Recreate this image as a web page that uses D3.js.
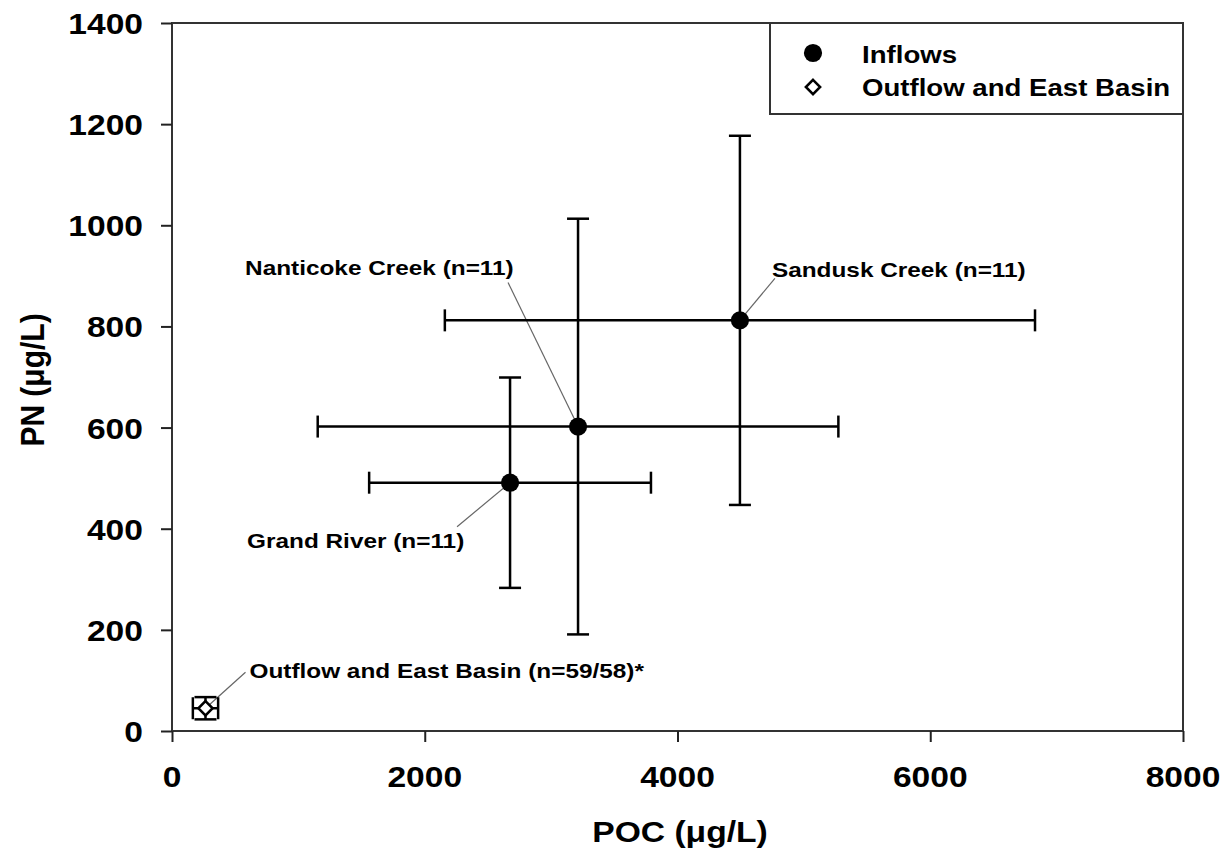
<!DOCTYPE html>
<html><head><meta charset="utf-8">
<script src="https://cdn.jsdelivr.net/npm/d3@7"></script>
<style>
body{margin:0;background:#fff}
text{font-family:"Liberation Sans",Arial,sans-serif;font-weight:bold;fill:#000}
</style>
</head><body>
<svg id="chart" width="1226" height="864"></svg>
<script>
// ---- data ----
const siteLabels = ["Grand River (n=11)", "Nanticoke Creek (n=11)", "Sandusk Creek (n=11)", "Outflow and East Basin (n=59/58)*"];
const siteGroups = ["Inflows", "Inflows", "Inflows", "Outflow and East Basin"];
const pocMean = [2675, 3213, 4494, 265];
const pocSD   = [1115, 2060, 2335, 100];
const pnMean  = [491, 602, 812, 45];
const pnSD    = [208, 411, 365, 22];
const xTickValues = [0, 2000, 4000, 6000, 8000];
const yTickValues = [0, 200, 400, 600, 800, 1000, 1200, 1400];
const legendLabels = ["Inflows", "Outflow and East Basin"];
const xTitle = "POC (\u03bcg/L)";
const yTitle = "PN (\u03bcg/L)";

// label placement relative to point (pixels)
const labelOffsets = [
  {dx: -263, dy: 65, lx1: -53, ly1: 44},
  {dx: -333, dy: -152, lx1: -70, ly1: -144},
  {dx: 32, dy: -43, lx1: 35, ly1: -42},
  {dx: 44, dy: -30, lx1: 40, ly1: -36}
];

const svg = d3.select("#chart");
const L = 172, R = 1183, T = 23, B = 731;
const x = d3.scaleLinear().domain([0, 8000]).range([L, R]);
const y = d3.scaleLinear().domain([0, 1400]).range([B, T]);

function stext(g, str, px, py, size, sx, anchor) {
  return g.append("text")
    .attr("transform", `translate(${px},${py}) scale(${sx},1)`)
    .attr("font-size", size)
    .attr("text-anchor", anchor || "start")
    .text(str);
}

// frame
svg.append("rect").attr("x", L).attr("y", T).attr("width", R - L).attr("height", B - T)
  .attr("fill", "none").attr("stroke", "#333").attr("stroke-width", 2);

// axes (ticks only)
const gx = svg.append("g").attr("transform", `translate(0,${B})`)
  .call(d3.axisBottom(x).tickValues(xTickValues).tickSize(11).tickFormat(""));
const gy = svg.append("g").attr("transform", `translate(${L},0)`)
  .call(d3.axisLeft(y).tickValues(yTickValues).tickSize(11).tickFormat(""));
[gx, gy].forEach(g => {
  g.select(".domain").remove();
  g.selectAll(".tick line").attr("stroke", "#222").attr("stroke-width", 2);
});
xTickValues.forEach(v => stext(svg, d3.format("d")(v), x(v), 787, 30, 1.12, "middle"));
yTickValues.forEach(v => stext(svg, d3.format("d")(v), 143, y(v) + 11, 30, 1.12, "end"));

// axis titles
stext(svg, xTitle, 680, 842, 29, 1.16, "middle");
svg.append("text")
  .attr("transform", `translate(44,380) rotate(-90) scale(1,1.1)`)
  .attr("font-size", 30).attr("text-anchor", "middle").text(yTitle);

// data
const data = siteLabels.map((s, i) => ({
  label: s, group: siteGroups[i], x: pocMean[i], y: pnMean[i], sx: pocSD[i], sy: pnSD[i], off: labelOffsets[i]
}));

// leader lines + labels
data.forEach(d => {
  const px = x(d.x), py = y(d.y);
  svg.append("line").attr("x1", px + d.off.lx1).attr("y1", py + d.off.ly1)
    .attr("x2", px).attr("y2", py).attr("stroke", "#666").attr("stroke-width", 1.2);
  stext(svg, d.label, px + d.off.dx, py + d.off.dy, 21, 1.16, "start");
});

// error bars
const eb = svg.append("g").attr("stroke", "#000").attr("stroke-width", 2.5).attr("fill", "none");
data.forEach(d => {
  const px = x(d.x), py = y(d.y);
  const cap = 11;
  eb.append("line").attr("x1", x(d.x - d.sx)).attr("x2", x(d.x + d.sx)).attr("y1", py).attr("y2", py);
  eb.append("line").attr("x1", px).attr("x2", px).attr("y1", y(d.y - d.sy)).attr("y2", y(d.y + d.sy));
  [d.x - d.sx, d.x + d.sx].forEach(v => eb.append("line").attr("x1", x(v)).attr("x2", x(v)).attr("y1", py - cap).attr("y2", py + cap));
  [d.y - d.sy, d.y + d.sy].forEach(v => eb.append("line").attr("y1", y(v)).attr("y2", y(v)).attr("x1", px - cap).attr("x2", px + cap));
});

// markers
const circleSym = d3.symbol().type(d3.symbolCircle).size(260);
const diamondSym = d3.symbol().type(d3.symbolDiamond2).size(130);
data.forEach(d => {
  const px = x(d.x), py = y(d.y);
  if (d.group === "Inflows") {
    svg.append("path").attr("d", circleSym()).attr("transform", `translate(${px},${py})`).attr("fill", "#000");
  } else {
    svg.append("path").attr("d", diamondSym()).attr("transform", `translate(${px},${py})`)
      .attr("fill", "#fff").attr("stroke", "#000").attr("stroke-width", 2.5);
  }
});

// legend
const lg = svg.append("g");
lg.append("rect").attr("x", 770).attr("y", T).attr("width", R - 770).attr("height", 114 - T)
  .attr("fill", "#fff").attr("stroke", "#333").attr("stroke-width", 2);
lg.append("path").attr("d", circleSym()).attr("transform", "translate(813,53)").attr("fill", "#000");
lg.append("path").attr("d", diamondSym()).attr("transform", "translate(813,87)")
  .attr("fill", "#fff").attr("stroke", "#000").attr("stroke-width", 2.5);
stext(lg, legendLabels[0], 862, 63, 24, 1.15, "start");
stext(lg, legendLabels[1], 862, 96, 24, 1.15, "start");
</script>
</body></html>
